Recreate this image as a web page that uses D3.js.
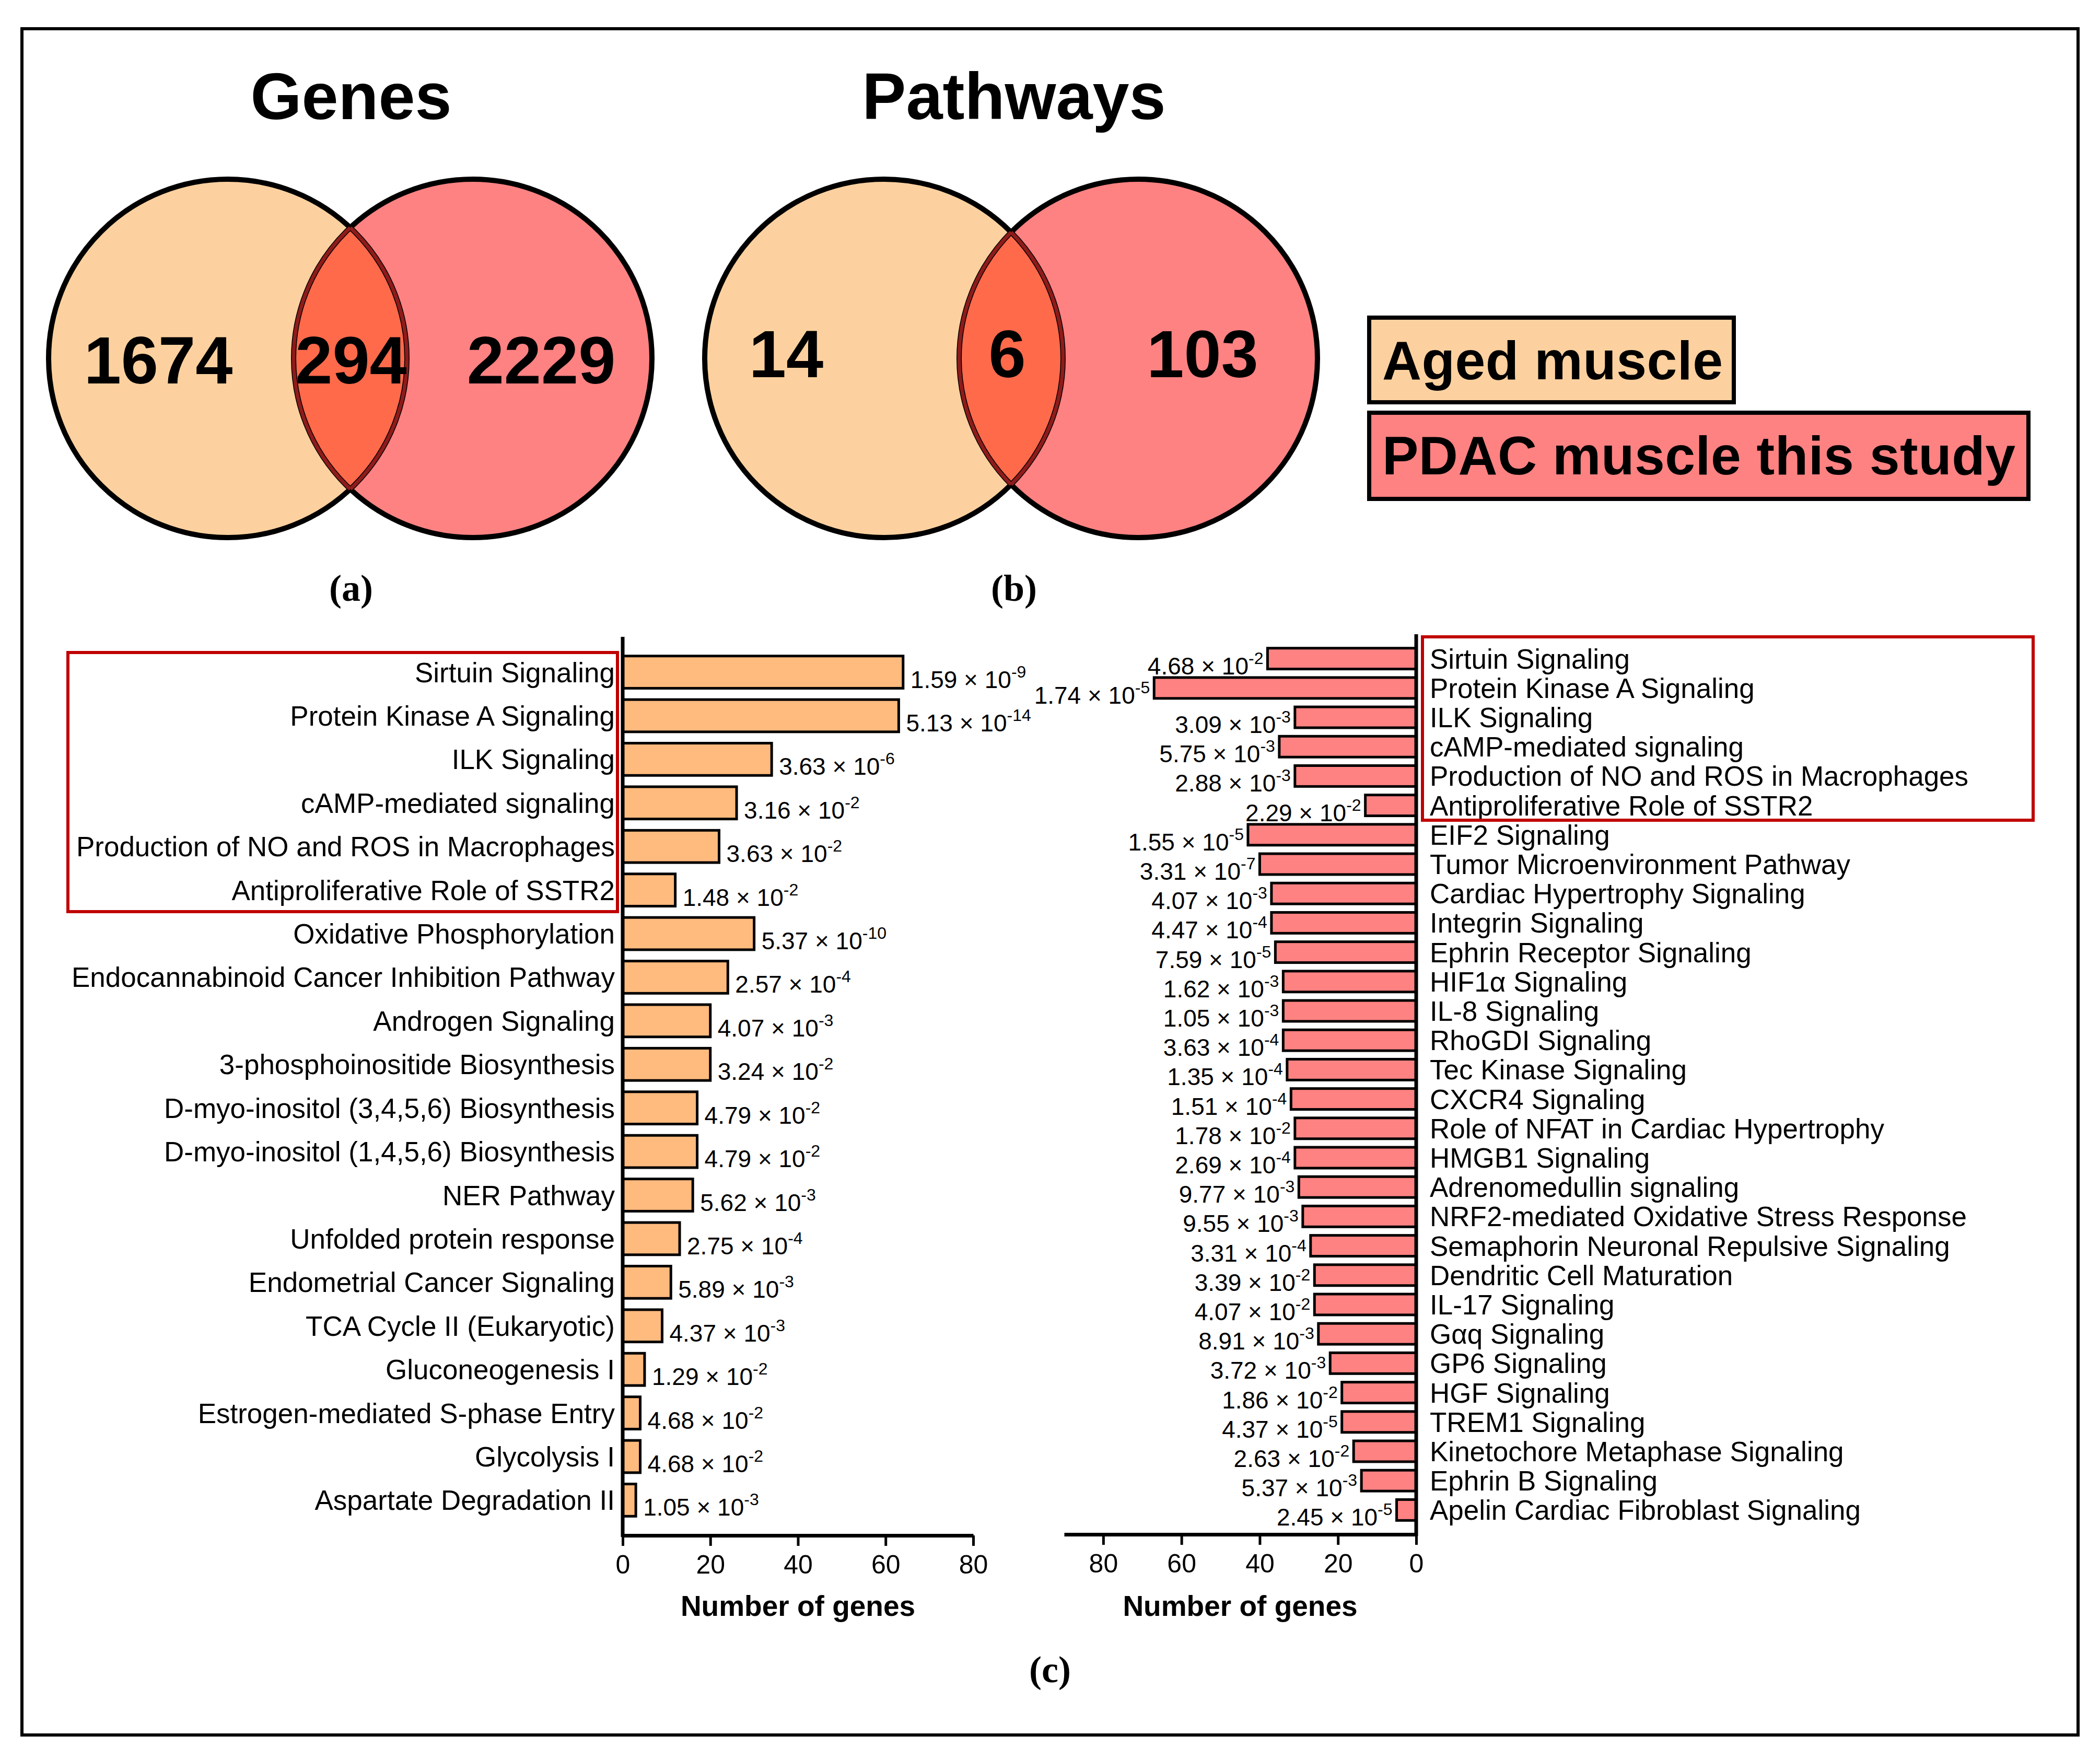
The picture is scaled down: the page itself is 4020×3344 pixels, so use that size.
<!DOCTYPE html>
<html><head><meta charset="utf-8">
<script src="https://cdn.jsdelivr.net/npm/d3@7"></script>
<style>body{margin:0;background:#fff}svg{display:block;font-family:"Liberation Sans",Arial,sans-serif}</style>
</head><body>
<script>
// ---------- DATA ----------
const vennTitles = ["Genes", "Pathways"];
const genesCounts = [1674, 294, 2229];
const pathwayCounts = [14, 6, 103];
const legendLabels = ["Aged muscle", "PDAC muscle this study"];
const panelLabels = ["(a)", "(b)", "(c)"];

const leftCats = ["Sirtuin Signaling","Protein Kinase A Signaling","ILK Signaling","cAMP-mediated signaling",
 "Production of NO and ROS in Macrophages","Antiproliferative Role of SSTR2","Oxidative Phosphorylation",
 "Endocannabinoid Cancer Inhibition Pathway","Androgen Signaling","3-phosphoinositide Biosynthesis",
 "D-myo-inositol (3,4,5,6) Biosynthesis","D-myo-inositol (1,4,5,6) Biosynthesis","NER Pathway",
 "Unfolded protein response","Endometrial Cancer Signaling","TCA Cycle II (Eukaryotic)","Gluconeogenesis I",
 "Estrogen-mediated S-phase Entry","Glycolysis I","Aspartate Degradation II"];
const leftGenes = [64,63,34,26,22,12,30,24,20,20,17,17,16,13,11,9,5,4,4,3];
const leftMant = ["1.59","5.13","3.63","3.16","3.63","1.48","5.37","2.57","4.07","3.24","4.79","4.79","5.62","2.75","5.89","4.37","1.29","4.68","4.68","1.05"];
const leftExp = [-9,-14,-6,-2,-2,-2,-10,-4,-3,-2,-2,-2,-3,-4,-3,-3,-2,-2,-2,-3];

const rightCats = ["Sirtuin Signaling","Protein Kinase A Signaling","ILK Signaling","cAMP-mediated signaling",
 "Production of NO and ROS in Macrophages","Antiproliferative Role of SSTR2","EIF2 Signaling",
 "Tumor Microenvironment Pathway","Cardiac Hypertrophy Signaling","Integrin Signaling","Ephrin Receptor Signaling",
 "HIF1α Signaling","IL-8 Signaling","RhoGDI Signaling","Tec Kinase Signaling","CXCR4 Signaling",
 "Role of NFAT in Cardiac Hypertrophy","HMGB1 Signaling","Adrenomedullin signaling",
 "NRF2-mediated Oxidative Stress Response","Semaphorin Neuronal Repulsive Signaling","Dendritic Cell Maturation",
 "IL-17 Signaling","Gαq Signaling","GP6 Signaling","HGF Signaling","TREM1 Signaling",
 "Kinetochore Metaphase Signaling","Ephrin B Signaling","Apelin Cardiac Fibroblast Signaling"];
const rightGenes = [38,67,31,35,31,13,43,40,37,37,36,34,34,34,33,32,31,31,30,29,27,26,26,25,22,19,19,16,14,5];
const rightMant = ["4.68","1.74","3.09","5.75","2.88","2.29","1.55","3.31","4.07","4.47","7.59","1.62","1.05","3.63","1.35","1.51","1.78","2.69","9.77","9.55","3.31","3.39","4.07","8.91","3.72","1.86","4.37","2.63","5.37","2.45"];
const rightExp = [-2,-5,-3,-3,-3,-2,-5,-7,-3,-4,-5,-3,-3,-4,-4,-4,-2,-4,-3,-3,-4,-2,-2,-3,-3,-2,-5,-2,-3,-5];

const leftTicks = [0,20,40,60,80];
const rightTicks = [0,20,40,60,80];
const axisTitle = "Number of genes";

// ---------- STYLE ----------
const C = {peach:"#FDD19F", salmon:"#FF8282", inter:"#FF6A4B", barL:"#FFBA7E", barR:"#FF8282", red:"#C00000", dark:"#8E1B1B"};

const W = 4020, H = 3344;
const svg = d3.select("body").append("svg").attr("width", W).attr("height", H);
svg.append("rect").attr("width", W).attr("height", H).attr("fill", "#fff");
svg.append("rect").attr("x", 42).attr("y", 55).attr("width", 3936).attr("height", 3266)
  .attr("fill","none").attr("stroke","#000").attr("stroke-width",6);
const defs = svg.append("defs");

// ---------- VENN ----------
function venn(id, cx1, cx2, cy, r, counts, numX, numY, title, titleX) {
  const g = svg.append("g");
  defs.append("clipPath").attr("id","clipR"+id).append("circle").attr("cx",cx2).attr("cy",cy).attr("r",r);
  defs.append("clipPath").attr("id","clipL"+id).append("circle").attr("cx",cx1).attr("cy",cy).attr("r",r);
  g.append("circle").attr("cx",cx1).attr("cy",cy).attr("r",r).attr("fill",C.peach);
  g.append("circle").attr("cx",cx2).attr("cy",cy).attr("r",r).attr("fill",C.salmon);
  g.append("circle").attr("cx",cx2).attr("cy",cy).attr("r",r).attr("fill",C.inter).attr("clip-path",`url(#clipL${id})`);
  g.append("circle").attr("cx",cx1).attr("cy",cy).attr("r",r).attr("fill","none").attr("stroke","#000").attr("stroke-width",10);
  g.append("circle").attr("cx",cx2).attr("cy",cy).attr("r",r).attr("fill","none").attr("stroke","#000").attr("stroke-width",10);
  g.append("circle").attr("cx",cx1).attr("cy",cy).attr("r",r).attr("fill","none").attr("stroke",C.dark).attr("stroke-width",7).attr("clip-path",`url(#clipR${id})`);
  g.append("circle").attr("cx",cx2).attr("cy",cy).attr("r",r).attr("fill","none").attr("stroke",C.dark).attr("stroke-width",7).attr("clip-path",`url(#clipL${id})`);
  g.selectAll("text.num").data(counts).join("text").attr("class","num")
    .attr("x",(d,i)=>numX[i]).attr("y",numY).attr("text-anchor","middle")
    .attr("font-weight","bold").attr("font-size",128).attr("fill","#000").text(d=>d);
  g.append("text").attr("x",titleX).attr("y",228).attr("text-anchor","middle")
    .attr("font-weight","bold").attr("font-size",126).text(title);
}
venn("a", 436, 905, 686, 343, genesCounts, [303, 672, 1036], 734, vennTitles[0], 672);
venn("b", 1692, 2179, 686, 343, pathwayCounts, [1505, 1928, 2302], 722, vennTitles[1], 1941);

// legend
const legY = [608, 790], legW = [698, 1262], legH = [162, 165], legCol = [C.peach, C.salmon], legTW=[652,1212];
legendLabels.forEach((t,i)=>{
  svg.append("rect").attr("x",2621).attr("y",legY[i]).attr("width",legW[i]).attr("height",legH[i])
    .attr("fill",legCol[i]).attr("stroke","#000").attr("stroke-width",8);
  svg.append("text").attr("x",2646).attr("y",legY[i]+118).attr("font-weight","bold").attr("font-size",104)
    .attr("textLength",legTW[i]).attr("lengthAdjust","spacing").text(t);
});

// panel labels
const plPos = [[672,1150],[1941,1150],[2010,3220]];
panelLabels.forEach((t,i)=>{
  svg.append("text").attr("x",plPos[i][0]).attr("y",plPos[i][1]).attr("text-anchor","middle")
    .attr("font-family","'Liberation Serif','Times New Roman',serif").attr("font-weight","bold")
    .attr("font-size",72).text(t);
});

// ---------- BAR CHARTS ----------
function pLabel(sel, mant, exp) {
  sel.append("tspan").text(mant + " × 10");
  sel.append("tspan").attr("font-size",32).attr("dy",-20).text(exp);
}

// left
const xL = d3.scaleLinear().domain([0,80]).range([1192,1863]);
const yL = d3.scaleBand().domain(leftCats).range([1219,2939]).paddingInner(0.26).paddingOuter(0.44);
const gL = svg.append("g");
gL.selectAll("rect.bar").data(leftCats).join("rect").attr("class","bar")
  .attr("x",xL(0)).attr("y",d=>yL(d)).attr("width",(d,i)=>xL(leftGenes[i])-xL(0)).attr("height",yL.bandwidth())
  .attr("fill",C.barL).attr("stroke","#000").attr("stroke-width",5);
gL.selectAll("text.cat").data(leftCats).join("text").attr("class","cat")
  .attr("x",1177).attr("y",d=>yL(d)+yL.bandwidth()/2+19).attr("text-anchor","end").attr("font-size",53).text(d=>d);
leftCats.forEach((c,i)=>{
  const t = gL.append("text").attr("x",xL(leftGenes[i])+14).attr("y",yL(c)+yL.bandwidth()/2+30).attr("font-size",46);
  pLabel(t, leftMant[i], leftExp[i]);
});
const axL = gL.append("g").attr("transform","translate(0,2939)")
  .call(d3.axisBottom(xL).tickValues(leftTicks).tickSize(20).tickPadding(17).tickSizeOuter(0));
axL.select(".domain").attr("stroke-width",7);
axL.selectAll(".tick line").attr("stroke-width",5);
axL.selectAll(".tick text").attr("font-size",50).attr("font-family","'Liberation Sans',Arial,sans-serif");
gL.append("line").attr("x1",xL(0)).attr("x2",xL(0)).attr("y1",1219).attr("y2",2942).attr("stroke","#000").attr("stroke-width",7);
gL.append("text").attr("x",(xL(0)+xL(80))/2).attr("y",3093).attr("text-anchor","middle")
  .attr("font-weight","bold").attr("font-size",55).text(axisTitle);
gL.append("rect").attr("x",130).attr("y",1249).attr("width",1052).attr("height",496)
  .attr("fill","none").attr("stroke",C.red).attr("stroke-width",6);

// right
const xR = d3.scaleLinear().domain([0,90]).range([2711,2037]);
const yR = d3.scaleBand().domain(rightCats).range([1214,2937]).paddingInner(0.29).paddingOuter(0.475);
const gR = svg.append("g");
gR.selectAll("rect.bar").data(rightCats).join("rect").attr("class","bar")
  .attr("x",(d,i)=>xR(rightGenes[i])).attr("y",d=>yR(d)).attr("width",(d,i)=>xR(0)-xR(rightGenes[i])).attr("height",yR.bandwidth())
  .attr("fill",C.barR).attr("stroke","#000").attr("stroke-width",5);
gR.selectAll("text.cat").data(rightCats).join("text").attr("class","cat")
  .attr("x",2737).attr("y",d=>yR(d)+yR.bandwidth()/2+19).attr("font-size",53).text(d=>d);
rightCats.forEach((c,i)=>{
  const t = gR.append("text").attr("x",xR(rightGenes[i])-8).attr("y",yR(c)+yR.bandwidth()/2+30)
    .attr("text-anchor","end").attr("font-size",46);
  pLabel(t, rightMant[i], rightExp[i]);
});
const axR = gR.append("g").attr("transform","translate(0,2937)")
  .call(d3.axisBottom(xR).tickValues(rightTicks).tickSize(20).tickPadding(17).tickSizeOuter(0));
axR.select(".domain").attr("stroke-width",7);
axR.selectAll(".tick line").attr("stroke-width",5);
axR.selectAll(".tick text").attr("font-size",50).attr("font-family","'Liberation Sans',Arial,sans-serif");
gR.append("line").attr("x1",xR(0)).attr("x2",xR(0)).attr("y1",1214).attr("y2",2940).attr("stroke","#000").attr("stroke-width",7);
gR.append("text").attr("x",(xR(0)+xR(90))/2).attr("y",3093).attr("text-anchor","middle")
  .attr("font-weight","bold").attr("font-size",55).text(axisTitle);
gR.append("rect").attr("x",2723).attr("y",1219).attr("width",1169).attr("height",351)
  .attr("fill","none").attr("stroke",C.red).attr("stroke-width",6);
</script>
</body></html>
